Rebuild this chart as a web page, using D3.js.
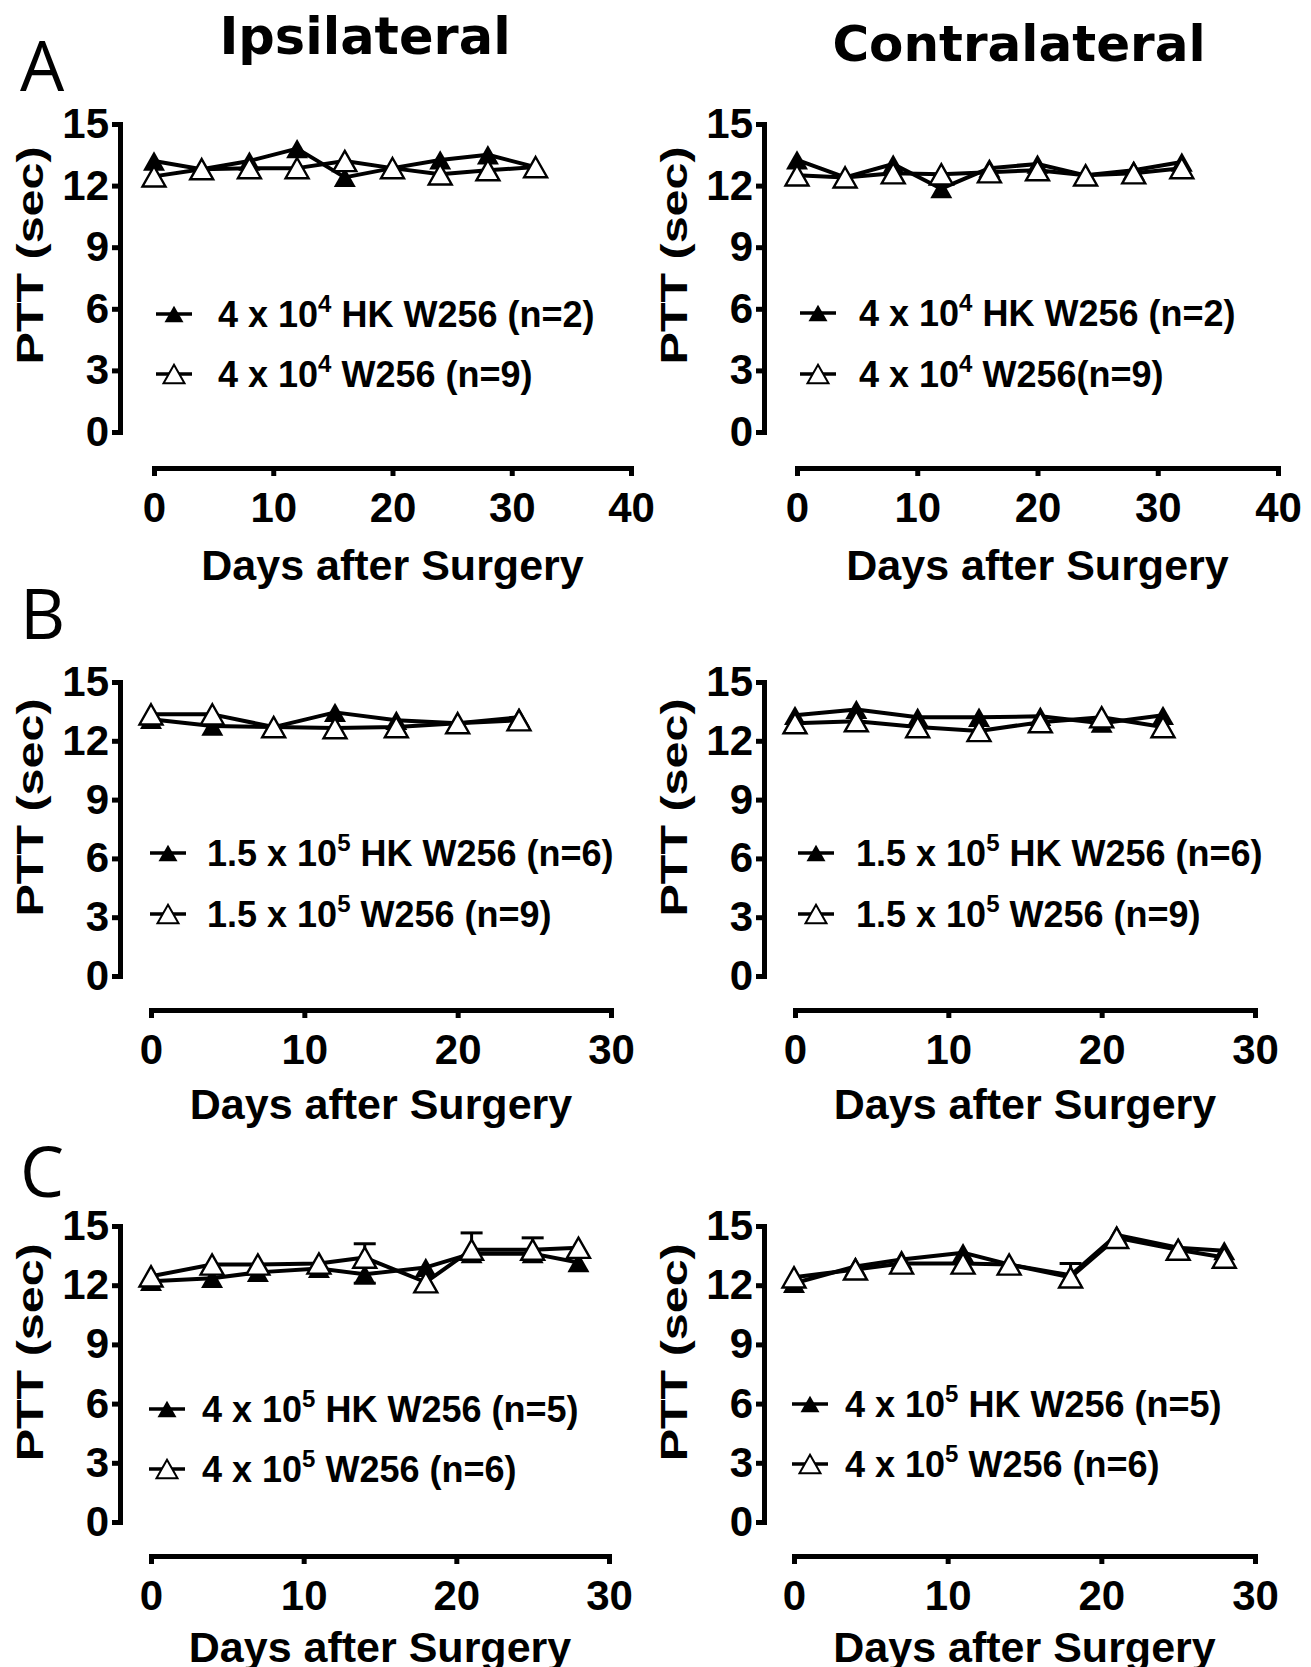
<!DOCTYPE html>
<html>
<head>
<meta charset="utf-8">
<script src="https://cdn.jsdelivr.net/npm/d3@7"></script>
<style>
  body { margin: 0; background: #fff; }
  svg { display: block; }
</style>
</head>
<body>
<svg id="chart" width="1311" height="1667"></svg>
<script>
// days on the x axis
const daysA = [0, 4, 8, 12, 16, 20, 24, 28, 32]
const daysB = [0, 4, 8, 12, 16, 20, 24]
const daysC = [0, 4, 7, 11, 14, 18, 21, 25, 28]

// PTT values (sec)
const ipsiA_hk = [13.2, 12.8, 13.2, 13.8, 12.4, 12.85, 13.25, 13.5, 12.9]
const ipsiA_w = [12.45, 12.8, 12.85, 12.85, 13.2, 12.85, 12.55, 12.75, 12.9]
const contraA_hk = [13.25, 12.4, 13.05, 11.85, 12.85, 13.05, 12.5, 12.75, 13.15]
const contraA_w = [12.5, 12.4, 12.6, 12.55, 12.65, 12.75, 12.5, 12.6, 12.85]

const ipsiB_hk = [13.1, 12.75, 12.7, 13.45, 13.05, 12.9, 13.2]
const ipsiB_w = [13.35, 13.35, 12.7, 12.65, 12.7, 12.9, 13.05]
const contraB_hk = [13.3, 13.6, 13.2, 13.2, 13.25, 12.9, 13.3]
const contraB_w = [12.9, 13.0, 12.7, 12.5, 12.95, 13.2, 12.7]

const ipsiC_hk = [12.2, 12.35, 12.65, 12.85, 12.55, 12.9, 13.6, 13.6, 13.15]
const ipsiC_w = [12.45, 13.05, 13.05, 13.1, 13.4, 12.15, 13.8, 13.8, 13.9]
const contraC_hk = [12.1, 12.95, 13.3, 13.65, 13.05, 12.5, 14.55, 13.9, 13.75]
const contraC_w = [12.4, 12.8, 13.1, 13.1, 13.05, 12.4, 14.4, 13.8, 13.4]

// error bars (sec), positive drawn up, negative drawn down, 0 = none
const ipsiC_hk_err = [0, 0, 0, 0, -0.45, 0, 0, 0, 0]
const ipsiC_w_err = [0, 0, 0, 0, 0.7, 0, 0.85, 0.6, 0]
const contraC_hk_err = [0, 0, 0, 0, 0, 0.6, 0, 0, 0]
const contraC_w_err = [0, 0, 0, 0, 0, 0, 0, 0, 0]

// tick labels
const yTicks = [0, 3, 6, 9, 12, 15]
const xTicksA = [0, 10, 20, 30, 40]
const xTicksBC = [0, 10, 20, 30]

// legend text: [before superscript, superscript, after]
const legendA_ipsi = [["4 x 10", "4", " HK W256 (n=2)"], ["4 x 10", "4", " W256 (n=9)"]]
const legendA_contra = [["4 x 10", "4", " HK W256 (n=2)"], ["4 x 10", "4", " W256(n=9)"]]
const legendB = [["1.5 x 10", "5", " HK W256 (n=6)"], ["1.5 x 10", "5", " W256 (n=9)"]]
const legendC = [["4 x 10", "5", " HK W256 (n=5)"], ["4 x 10", "5", " W256 (n=6)"]]

const columnTitles = ["Ipsilateral", "Contralateral"]
const panelLetters = ["A", "B", "C"]

const svg = d3.select("#chart")
svg.append("rect").attr("width", 1311).attr("height", 1667).attr("fill", "#fff")

const boldFont = "'Liberation Sans', Arial, sans-serif"

// triangle centred on its bounding box, like the plotting program draws it
function triangle(w) {
  return {
    draw(ctx) {
      const h = w * 0.88
      ctx.moveTo(0, -h / 2)
      ctx.lineTo(w / 2, h / 2)
      ctx.lineTo(-w / 2, h / 2)
      ctx.closePath()
    }
  }
}

const rows = [
  { y15: 124, y0: 432, xAxisY: 468, titleDy: 112, xRange: [[154, 631], [797, 1278]], xMax: 40, xTicks: xTicksA, days: daysA },
  { y15: 682, y0: 976, xAxisY: 1010, titleDy: 109, xRange: [[151, 611], [795, 1255]], xMax: 30, xTicks: xTicksBC, days: daysB },
  { y15: 1226, y0: 1522, xAxisY: 1556, titleDy: 106, xRange: [[151, 609], [794, 1255]], xMax: 30, xTicks: xTicksBC, days: daysC }
]
const axisX = [120, 764]

const panels = [
  { row: 0, col: 0, hk: ipsiA_hk, w: ipsiA_w, legend: legendA_ipsi, leg: { sx: 174, tx: 218, y1: 314, y2: 374 } },
  { row: 0, col: 1, hk: contraA_hk, w: contraA_w, legend: legendA_contra, leg: { sx: 818, tx: 859, y1: 313, y2: 374 } },
  { row: 1, col: 0, hk: ipsiB_hk, w: ipsiB_w, legend: legendB, leg: { sx: 168, tx: 207, y1: 853, y2: 914 } },
  { row: 1, col: 1, hk: contraB_hk, w: contraB_w, legend: legendB, leg: { sx: 816, tx: 856, y1: 853, y2: 914 } },
  { row: 2, col: 0, hk: ipsiC_hk, w: ipsiC_w, hkErr: ipsiC_hk_err, wErr: ipsiC_w_err, legend: legendC, leg: { sx: 167, tx: 202, y1: 1409, y2: 1469 } },
  { row: 2, col: 1, hk: contraC_hk, w: contraC_w, hkErr: contraC_hk_err, wErr: contraC_w_err, legend: legendC, leg: { sx: 810, tx: 845, y1: 1404, y2: 1464 } }
]

function styleAxis(g) {
  g.select(".domain").attr("stroke-width", 5).attr("stroke-linecap", "square")
  g.selectAll(".tick line").attr("stroke-width", 5)
  g.selectAll(".tick text")
    .attr("font-family", boldFont).attr("font-weight", "bold")
    .attr("font-size", 42).attr("fill", "#000")
}

panels.forEach(p => {
  const r = rows[p.row]
  const ax = axisX[p.col]
  const x = d3.scaleLinear().domain([0, r.xMax]).range(r.xRange[p.col])
  const y = d3.scaleLinear().domain([0, 15]).range([r.y0, r.y15])
  const g = svg.append("g")

  // y axis
  g.append("g").attr("transform", `translate(${ax},0)`)
    .call(d3.axisLeft(y).tickValues(yTicks).tickSize(8).tickSizeOuter(0).tickPadding(3))
    .call(styleAxis)

  // x axis, offset below the plot
  g.append("g").attr("transform", `translate(0,${r.xAxisY})`)
    .call(d3.axisBottom(x).tickValues(r.xTicks).tickSize(8).tickSizeOuter(0).tickPadding(16))
    .call(styleAxis)

  // axis titles
  g.append("text")
    .attr("x", (r.xRange[p.col][0] + r.xRange[p.col][1]) / 2)
    .attr("y", r.xAxisY + r.titleDy)
    .attr("text-anchor", "middle")
    .attr("font-family", boldFont).attr("font-weight", "bold").attr("font-size", 43)
    .text("Days after Surgery")

  g.append("text")
    .attr("transform", `translate(${ax - 77},${y(8.6)}) rotate(-90)`)
    .attr("text-anchor", "middle")
    .attr("font-family", boldFont).attr("font-weight", "bold").attr("font-size", 36)
    .attr("textLength", 218).attr("lengthAdjust", "spacingAndGlyphs")
    .text("PTT (sec)")

  const line = d3.line().x((d, i) => x(r.days[i])).y(d => y(d))

  // lines
  g.append("path").datum(p.hk).attr("d", line)
    .attr("fill", "none").attr("stroke", "#000").attr("stroke-width", 4).attr("stroke-linejoin", "round")
  g.append("path").datum(p.w).attr("d", line)
    .attr("fill", "none").attr("stroke", "#000").attr("stroke-width", 4).attr("stroke-linejoin", "round")

  // error bars
  const drawErr = (vals, errs) => {
    if (!errs) return
    errs.forEach((e, i) => {
      if (!e) return
      const cx = x(r.days[i]), y1 = y(vals[i]), y2 = y(vals[i] + e)
      g.append("line").attr("x1", cx).attr("x2", cx).attr("y1", y1).attr("y2", y2)
        .attr("stroke", "#000").attr("stroke-width", 3)
      g.append("line").attr("x1", cx - 11).attr("x2", cx + 11).attr("y1", y2).attr("y2", y2)
        .attr("stroke", "#000").attr("stroke-width", 3)
    })
  }
  drawErr(p.hk, p.hkErr)
  drawErr(p.w, p.wErr)

  // markers: filled (HK) below, open on top
  g.selectAll(null).data(p.hk).join("path")
    .attr("transform", (d, i) => `translate(${x(r.days[i])},${y(d)})`)
    .attr("d", d3.symbol(triangle(22)))
    .attr("fill", "#000")
  g.selectAll(null).data(p.w).join("path")
    .attr("transform", (d, i) => `translate(${x(r.days[i])},${y(d)})`)
    .attr("d", d3.symbol(triangle(23)))
    .attr("fill", "#fff").attr("stroke", "#000").attr("stroke-width", 2.4)

  // legend
  const L = p.leg
  ;[L.y1, L.y2].forEach((ly, k) => {
    g.append("line").attr("x1", L.sx - 18).attr("x2", L.sx + 18).attr("y1", ly).attr("y2", ly)
      .attr("stroke", "#000").attr("stroke-width", 3.5)
    g.append("path").attr("transform", `translate(${L.sx},${ly})`)
      .attr("d", d3.symbol(triangle(k === 0 ? 19 : 21)))
      .attr("fill", k === 0 ? "#000" : "#fff").attr("stroke", "#000").attr("stroke-width", k === 0 ? 0 : 2)
    const t = g.append("text").attr("x", L.tx).attr("y", ly + 13)
      .attr("font-family", boldFont).attr("font-weight", "bold").attr("font-size", 36)
    const parts = p.legend[k]
    t.append("tspan").text(parts[0])
    t.append("tspan").attr("font-size", 24).attr("dy", -15).text(parts[1])
    t.append("tspan").attr("dy", 15).text(parts[2])
  })
})

// column titles
svg.append("text").attr("x", 365).attr("y", 54).attr("text-anchor", "middle")
  .attr("font-family", "'DejaVu Sans', Verdana, sans-serif").attr("font-weight", "bold").attr("font-size", 51)
  .text(columnTitles[0])
svg.append("text").attr("x", 1019).attr("y", 61).attr("text-anchor", "middle")
  .attr("font-family", "'DejaVu Sans', Verdana, sans-serif").attr("font-weight", "bold").attr("font-size", 50)
  .text(columnTitles[1])

// panel letters
const letterY = [91, 639, 1197]
panelLetters.forEach((l, i) => {
  svg.append("text").attr("x", 20).attr("y", letterY[i])
    .attr("font-family", "'Open Sans', 'Liberation Sans', sans-serif").attr("font-size", 70)
    .text(l)
})
</script>
</body>
</html>
